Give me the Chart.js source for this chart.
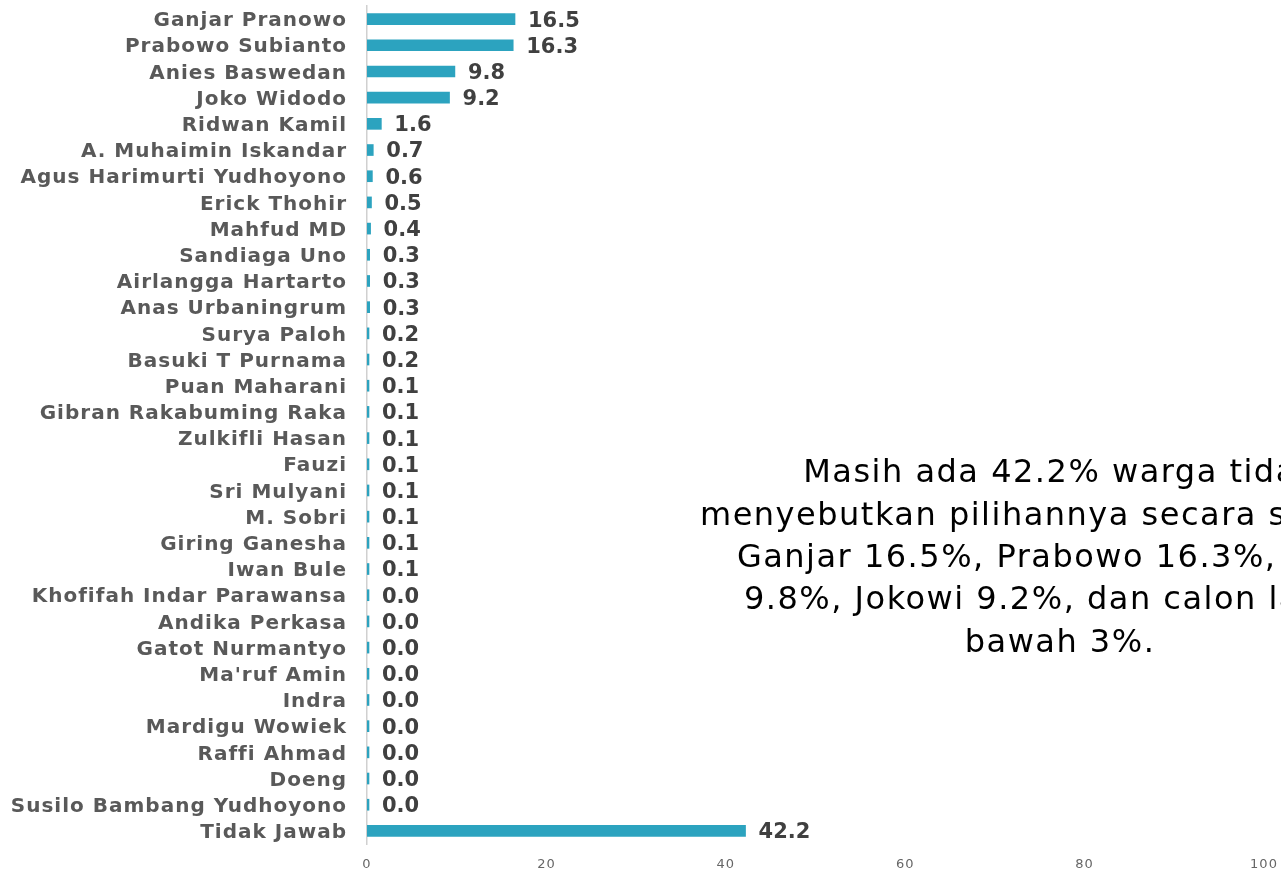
<!DOCTYPE html>
<html>
<head>
<meta charset="utf-8">
<script src="https://cdn.jsdelivr.net/npm/chart.js@4.4.1/dist/chart.umd.min.js"></script>
<style>
  html, body { margin: 0; padding: 0; background: #ffffff; }
  #wrap { width: 1281px; height: 874px; position: relative; }
</style>
</head>
<body>
<div id="wrap"><canvas id="elektabilitas"></canvas></div>
<script>
const NAMES = [
    'Ganjar Pranowo', 'Prabowo Subianto', 'Anies Baswedan', 'Joko Widodo', 'Ridwan Kamil',
    'A. Muhaimin Iskandar', 'Agus Harimurti Yudhoyono', 'Erick Thohir', 'Mahfud MD',
    'Sandiaga Uno', 'Airlangga Hartarto', 'Anas Urbaningrum', 'Surya Paloh', 'Basuki T Purnama',
    'Puan Maharani', 'Gibran Rakabuming Raka', 'Zulkifli Hasan', 'Fauzi', 'Sri Mulyani',
    'M. Sobri', 'Giring Ganesha', 'Iwan Bule', 'Khofifah Indar Parawansa', 'Andika Perkasa',
    'Gatot Nurmantyo', "Ma'ruf Amin", 'Indra', 'Mardigu Wowiek', 'Raffi Ahmad', 'Doeng',
    'Susilo Bambang Yudhoyono', 'Tidak Jawab'
];
const PERSEN = [
    16.5, 16.3, 9.8, 9.2, 1.6,
    0.7, 0.6, 0.5, 0.4,
    0.3, 0.3, 0.3, 0.2, 0.2,
    0.1, 0.1, 0.1, 0.1, 0.1,
    0.1, 0.1, 0.1, 0.0, 0.0,
    0.0, 0.0, 0.0, 0.0, 0.0, 0.0,
    0.0, 42.2
];
const X_TICKS = [0, 20, 40, 60, 80, 100];
const CATATAN = [
    'Masih ada 42.2% warga tidak',
    'menyebutkan pilihannya secara spontan.',
    'Ganjar 16.5%, Prabowo 16.3%, Anies',
    '9.8%, Jokowi 9.2%, dan calon lain di',
    'bawah 3%.'
];

// jarak huruf label kategori (font aslinya lebih lebar)
const spasiHuruf = {
    id: 'spasiHuruf',
    beforeDraw(chart) { chart.ctx.letterSpacing = '1px'; },
    beforeDatasetsDraw(chart) { chart.ctx.letterSpacing = '0px'; }
};

// angka di ujung batang
const valueLabels = {
    id: 'valueLabels',
    afterDatasetsDraw(chart) {
        const ctx = chart.ctx;
        const meta = chart.getDatasetMeta(0);
        ctx.save();
        ctx.letterSpacing = '0px';
        ctx.font = 'bold 21px "DejaVu Sans"';
        ctx.fillStyle = '#404040';
        ctx.textAlign = 'left';
        ctx.textBaseline = 'middle';
        meta.data.forEach((bar, i) => {
            const x = Math.max(bar.x, chart.chartArea.left);
            ctx.fillText(PERSEN[i].toFixed(1), x + 13, bar.y + 2);
        });
        ctx.restore();
    }
};

// kotak teks di kanan
const catatan = {
    id: 'catatan',
    afterDraw(chart) {
        const ctx = chart.ctx;
        ctx.save();
        ctx.letterSpacing = '1.5px';
        ctx.font = '32px "DejaVu Sans"';
        ctx.fillStyle = '#000000';
        ctx.textAlign = 'center';
        ctx.textBaseline = 'middle';
        CATATAN.forEach((line, i) => {
            ctx.fillText(line, 1060, 474 + i * 42.3);
        });
        ctx.restore();
    }
};

new Chart(
    document.getElementById('elektabilitas'),
    {
        type: 'bar',
        plugins: [spasiHuruf, valueLabels, catatan],
        options: {
            indexAxis: 'y',
            responsive: true,
            maintainAspectRatio: false,
            animation: false,
            layout: {
                padding: { top: 6, right: 17, bottom: 0, left: 0 }
            },
            scales: {
                x: {
                    min: 0,
                    max: 100,
                    afterBuildTicks: (scale) => {
                        scale.ticks = X_TICKS.map(v => ({ value: v }));
                    },
                    afterFit: (scale) => {
                        scale.height = 30;
                        scale.paddingLeft = 0;
                        scale.paddingRight = 0;
                    },
                    grid: { display: false, drawTicks: false },
                    border: { display: false },
                    ticks: {
                        padding: 13,
                        color: '#666666',
                        font: { family: '"DejaVu Sans"', size: 13 }
                    }
                },
                y: {
                    afterFit: (scale) => {
                        scale.width = 367;
                        scale.paddingTop = 0;
                        scale.paddingBottom = 0;
                    },
                    grid: { display: false, drawTicks: false },
                    border: { display: true, color: '#d0d0d0', width: 1.5 },
                    ticks: {
                        padding: 20,
                        labelOffset: 2,
                        autoSkip: false,
                        color: '#595959',
                        font: { family: '"DejaVu Sans"', size: 20, weight: 'bold' }
                    }
                }
            },
            plugins: {
                legend: { display: false },
                tooltip: { enabled: false }
            }
        },
        data: {
            labels: NAMES,
            datasets: [
                {
                    label: 'Elektabilitas',
                    data: PERSEN,
                    backgroundColor: '#2ca3bf',
                    barThickness: 11,
                    minBarLength: 2
                }
            ]
        }
    }
);
</script>
</body>
</html>
